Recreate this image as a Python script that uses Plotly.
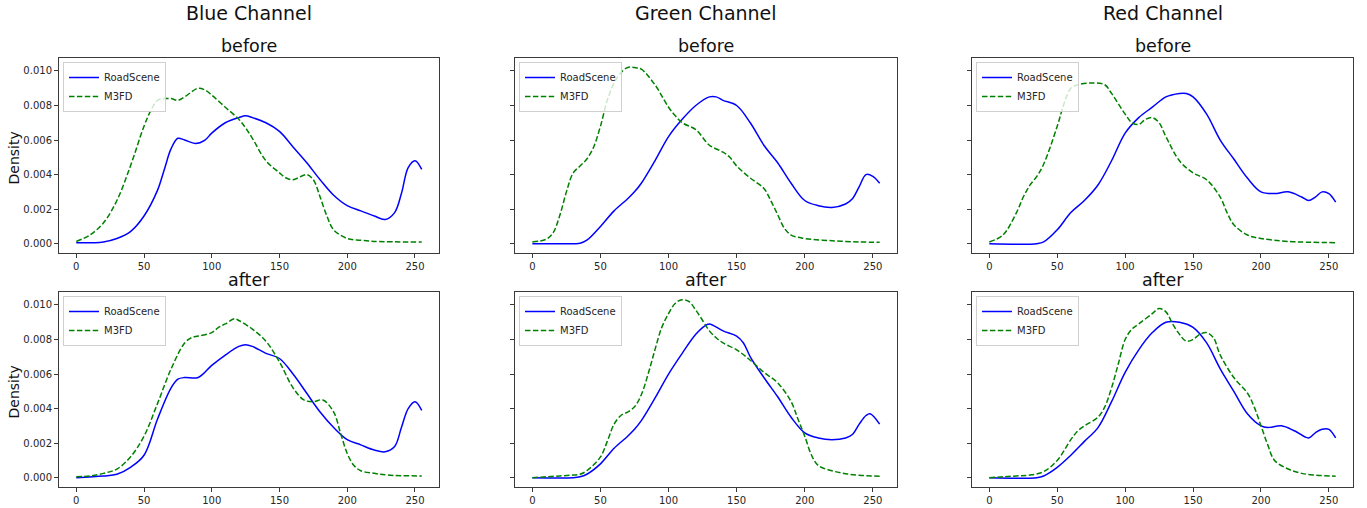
import plotly.graph_objects as go

# ---------------- data ----------------
channels = ["Blue Channel", "Green Channel", "Red Channel"]
rows = ["before", "after"]
series_names = ["RoadScene", "M3FD"]
x_ticks = [0, 50, 100, 150, 200, 250]
y_ticks = [0.0, 0.002, 0.004, 0.006, 0.008, 0.010]
y_tick_labels = ["0.000", "0.002", "0.004", "0.006", "0.008", "0.010"]

# Blue channel, before
blue_before_road_x = [0, 20, 30, 40, 50, 60, 65, 70, 75, 80, 88, 95, 100, 110, 120, 125, 130, 140, 150, 160, 170, 180, 190, 200, 210, 220, 228, 235, 240, 245, 250, 255]
blue_before_road_y = [0.00005, 0.0001, 0.0003, 0.0007, 0.0016, 0.0031, 0.0043, 0.0055, 0.0061, 0.0060, 0.0058, 0.0060, 0.0064, 0.0070, 0.0073, 0.0074, 0.0073, 0.0070, 0.0065, 0.0056, 0.0047, 0.0037, 0.0028, 0.0022, 0.0019, 0.0016, 0.0014, 0.0018, 0.0029, 0.0044, 0.0048, 0.0043]
blue_before_m3fd_x = [0, 10, 20, 30, 40, 50, 55, 60, 65, 70, 75, 80, 90, 95, 100, 110, 120, 125, 130, 140, 150, 155, 160, 170, 175, 180, 185, 190, 200, 210, 220, 255]
blue_before_m3fd_y = [0.00013, 0.0005, 0.0012, 0.0025, 0.0045, 0.0068, 0.0077, 0.0083, 0.0084, 0.0084, 0.0083, 0.0085, 0.0090, 0.0089, 0.0086, 0.0079, 0.0072, 0.0067, 0.0061, 0.0048, 0.0041, 0.0038, 0.0037, 0.0040, 0.0037, 0.0027, 0.0016, 0.0008, 0.0003, 0.0002, 0.00013, 0.0001]

# Blue channel, after
blue_after_road_x = [0, 20, 30, 40, 50, 60, 70, 75, 80, 90, 100, 110, 120, 125, 130, 140, 150, 160, 170, 180, 190, 200, 210, 220, 228, 235, 240, 245, 250, 255]
blue_after_road_y = [0.0, 0.0001, 0.0002, 0.0006, 0.0013, 0.0034, 0.0052, 0.0057, 0.0058, 0.0058, 0.0065, 0.0071, 0.0076, 0.0077, 0.0076, 0.0072, 0.0069, 0.0060, 0.0049, 0.0038, 0.0029, 0.0022, 0.0019, 0.0016, 0.0015, 0.0018, 0.0029, 0.0040, 0.0044, 0.0039]
blue_after_m3fd_x = [0, 10, 20, 30, 40, 50, 60, 70, 80, 85, 90, 100, 105, 110, 117, 120, 130, 140, 150, 160, 168, 175, 182, 190, 195, 200, 205, 210, 220, 230, 255]
blue_after_m3fd_y = [0.00006, 0.0001, 0.00025, 0.0005, 0.0012, 0.0024, 0.0043, 0.0063, 0.0078, 0.0081, 0.0082, 0.0084, 0.0087, 0.0089, 0.0092, 0.0091, 0.0086, 0.0079, 0.0067, 0.0052, 0.0045, 0.0044, 0.0045, 0.0038, 0.0026, 0.0014, 0.0007, 0.0004, 0.00025, 0.00015, 0.0001]

# Green channel, before
green_before_road_x = [0, 30, 35, 40, 50, 60, 70, 75, 80, 90, 100, 110, 120, 130, 135, 140, 150, 160, 170, 180, 190, 200, 210, 220, 230, 235, 240, 245, 250, 255]
green_before_road_y = [0.0, 0.0, 0.00002, 0.0002, 0.0010, 0.0019, 0.0026, 0.0030, 0.0035, 0.0048, 0.0062, 0.0072, 0.0080, 0.0085, 0.0085, 0.0083, 0.0080, 0.0070, 0.0057, 0.0047, 0.0035, 0.0025, 0.0022, 0.0021, 0.0023, 0.0026, 0.0033, 0.0040, 0.0039, 0.0035]
green_before_m3fd_x = [0, 10, 15, 20, 25, 30, 35, 40, 45, 50, 55, 60, 65, 70, 75, 80, 90, 100, 105, 110, 120, 130, 140, 145, 150, 160, 170, 175, 180, 185, 190, 200, 220, 240, 255]
green_before_m3fd_y = [0.0001, 0.00025, 0.0006, 0.0016, 0.0030, 0.0041, 0.0045, 0.0049, 0.0056, 0.0068, 0.0083, 0.0093, 0.0099, 0.0102, 0.0102, 0.0101, 0.0092, 0.0079, 0.0074, 0.0070, 0.0066, 0.0057, 0.0053, 0.0050, 0.0045, 0.0038, 0.0032, 0.0025, 0.0017, 0.0009, 0.0005, 0.0003, 0.00017, 0.0001, 0.00008]

# Green channel, after
green_after_road_x = [0, 30, 35, 40, 50, 60, 70, 75, 80, 90, 100, 110, 120, 127, 130, 140, 150, 155, 160, 170, 180, 190, 200, 210, 220, 230, 235, 240, 245, 248, 255]
green_after_road_y = [0.0, 0.0, 0.00005, 0.0002, 0.0008, 0.0017, 0.0024, 0.0028, 0.0033, 0.0046, 0.0060, 0.0072, 0.0083, 0.0088, 0.0089, 0.0085, 0.0082, 0.0078, 0.0070, 0.0058, 0.0047, 0.0035, 0.0026, 0.0023, 0.0022, 0.0023, 0.0025, 0.0031, 0.0036, 0.0037, 0.0031]
green_after_m3fd_x = [0, 20, 30, 35, 40, 50, 55, 60, 65, 70, 75, 80, 85, 90, 95, 100, 105, 110, 115, 120, 125, 130, 135, 140, 150, 160, 170, 180, 190, 195, 200, 205, 210, 220, 230, 240, 255]
green_after_m3fd_y = [0.0, 0.0001, 0.00015, 0.0002, 0.0004, 0.0012, 0.0021, 0.0031, 0.0036, 0.0038, 0.0041, 0.0048, 0.0060, 0.0074, 0.0087, 0.0095, 0.0101, 0.0103, 0.0102, 0.0097, 0.0091, 0.0085, 0.0081, 0.0078, 0.0074, 0.0068, 0.0061, 0.0055, 0.0044, 0.0034, 0.0024, 0.0013, 0.0007, 0.0004, 0.00023, 0.00014, 0.00008]

# Red channel, before
red_before_road_x = [0, 35, 40, 50, 60, 70, 80, 90, 100, 110, 120, 130, 140, 145, 150, 160, 170, 180, 190, 200, 210, 220, 230, 235, 240, 245, 250, 255]
red_before_road_y = [0.0, 0.0, 0.0001, 0.0008, 0.0018, 0.0025, 0.0034, 0.0048, 0.0064, 0.0073, 0.0079, 0.0085, 0.0087, 0.0087, 0.0085, 0.0075, 0.0060, 0.0049, 0.0038, 0.0030, 0.0029, 0.0030, 0.0027, 0.0025, 0.0027, 0.0030, 0.0029, 0.0024]
red_before_m3fd_x = [0, 10, 20, 25, 30, 35, 40, 50, 55, 60, 65, 75, 85, 90, 100, 105, 110, 115, 120, 125, 130, 140, 150, 160, 170, 175, 180, 190, 200, 220, 255]
red_before_m3fd_y = [0.0001, 0.0005, 0.0018, 0.0027, 0.0034, 0.0039, 0.0046, 0.0068, 0.0081, 0.0090, 0.0092, 0.0093, 0.0092, 0.0087, 0.0075, 0.0070, 0.0069, 0.0072, 0.0073, 0.0070, 0.0062, 0.0048, 0.0041, 0.0037, 0.0027, 0.0018, 0.0011, 0.0005, 0.0003, 0.00013, 0.00006]

# Red channel, after
red_after_road_x = [0, 35, 40, 50, 60, 70, 80, 90, 100, 110, 120, 130, 140, 150, 160, 170, 180, 190, 200, 205, 215, 225, 235, 240, 245, 250, 255]
red_after_road_y = [0.0, 0.0, 0.0001, 0.0006, 0.0013, 0.0021, 0.0029, 0.0044, 0.0061, 0.0074, 0.0084, 0.0090, 0.0090, 0.0087, 0.0078, 0.0063, 0.0050, 0.0037, 0.0030, 0.0029, 0.0030, 0.0027, 0.0023, 0.0026, 0.0028, 0.0028, 0.0023]
red_after_m3fd_x = [0, 20, 30, 40, 50, 60, 65, 70, 80, 85, 90, 95, 100, 105, 110, 120, 125, 130, 135, 140, 145, 150, 155, 160, 165, 170, 180, 190, 195, 200, 205, 210, 220, 230, 240, 255]
red_after_m3fd_y = [0.0, 0.0001, 0.00015, 0.00035, 0.0010, 0.0022, 0.0027, 0.0030, 0.0035, 0.0041, 0.0052, 0.0066, 0.0080, 0.0086, 0.0089, 0.0095, 0.0098, 0.0096, 0.0089, 0.0083, 0.0079, 0.0080, 0.0083, 0.0084, 0.0081, 0.0071, 0.0058, 0.0049, 0.0041, 0.0030, 0.0019, 0.0010, 0.0005, 0.00025, 0.00015, 0.00008]

panels = [
    # (row, col, road_x, road_y, m3fd_x, m3fd_y)
    (0, 0, blue_before_road_x, blue_before_road_y, blue_before_m3fd_x, blue_before_m3fd_y),
    (0, 1, green_before_road_x, green_before_road_y, green_before_m3fd_x, green_before_m3fd_y),
    (0, 2, red_before_road_x, red_before_road_y, red_before_m3fd_x, red_before_m3fd_y),
    (1, 0, blue_after_road_x, blue_after_road_y, blue_after_m3fd_x, blue_after_m3fd_y),
    (1, 1, green_after_road_x, green_after_road_y, green_after_m3fd_x, green_after_m3fd_y),
    (1, 2, red_after_road_x, red_after_road_y, red_after_m3fd_x, red_after_m3fd_y),
]

# ---------------- layout geometry ----------------
W, H = 1367, 508
col_px = [(59, 439), (515, 897), (972, 1353)]
row_px = [(58, 253), (292, 487)]
x_range = [-12.75, 267.75]
y_range = [-0.00054, 0.01075]

FONT = "DejaVu Sans, Liberation Sans, sans-serif"
AXCOL = "#3a3a3a"

fig = go.Figure()
layout = dict(
    width=W, height=H, margin=dict(l=0, r=0, t=0, b=0),
    paper_bgcolor="white", plot_bgcolor="white",
    font=dict(family=FONT, size=10, color="#222"),
    annotations=[],
)

for i, (r, c, rx, ry, mx, my) in enumerate(panels):
    n = i + 1
    xa = "x" if n == 1 else f"x{n}"
    ya = "y" if n == 1 else f"y{n}"
    lg = "legend" if n == 1 else f"legend{n}"
    fig.add_trace(go.Scatter(x=rx, y=ry, mode="lines", name=series_names[0],
                             line=dict(color="#0000ff", width=1.5, shape="spline", smoothing=1.0),
                             xaxis=xa, yaxis=ya, legend=lg, hoverinfo="skip"))
    fig.add_trace(go.Scatter(x=mx, y=my, mode="lines", name=series_names[1],
                             line=dict(color="#008000", width=1.5, dash="5.5px,2.4px", shape="spline", smoothing=1.0),
                             xaxis=xa, yaxis=ya, legend=lg, hoverinfo="skip"))
    x0, x1 = col_px[c]
    y0, y1 = row_px[r]
    common = dict(showline=True, mirror=True, linecolor=AXCOL, linewidth=1,
                  ticks="outside", ticklen=4, tickwidth=1, tickcolor=AXCOL,
                  showgrid=False, zeroline=False,
                  tickfont=dict(family=FONT, size=10, color="#262626"))
    layout["xaxis" if n == 1 else f"xaxis{n}"] = dict(
        domain=[x0 / W, x1 / W], range=x_range, anchor=ya,
        tickvals=x_ticks, ticktext=[str(v) for v in x_ticks], **common)
    layout["yaxis" if n == 1 else f"yaxis{n}"] = dict(
        domain=[1 - y1 / H, 1 - y0 / H], range=y_range, anchor=xa,
        tickvals=y_ticks, ticktext=y_tick_labels if c == 0 else [""] * len(y_ticks),
        **common)
    layout[lg] = dict(
        x=(x0 + 4) / W, y=1 - (y0 + 4) / H, xanchor="left", yanchor="top",
        xref="paper", yref="paper",
        bgcolor="rgba(255,255,255,0.8)", bordercolor="#d0d0d0", borderwidth=1,
        font=dict(family=FONT, size=10, color="#262626"),
        itemwidth=30, tracegroupgap=0,
    )
    # subplot title
    layout["annotations"].append(dict(
        text=rows[r], x=(x0 + x1) / 2 / W, y=1 - (y0 - 12) / H,
        xref="paper", yref="paper", xanchor="center", yanchor="middle",
        showarrow=False, font=dict(family=FONT, size=17.5, color="#111")))

# channel titles
for c, name in enumerate(channels):
    x0, x1 = col_px[c]
    layout["annotations"].append(dict(
        text=name, x=(x0 + x1) / 2 / W, y=1 - 13 / H,
        xref="paper", yref="paper", xanchor="center", yanchor="middle",
        showarrow=False, font=dict(family=FONT, size=19, color="#111")))

# y-axis titles
for r in range(2):
    y0, y1 = row_px[r]
    layout["annotations"].append(dict(
        text="Density", x=13 / W, y=1 - ((y0 + y1) / 2 + 3) / H,
        xref="paper", yref="paper", xanchor="center", yanchor="middle",
        textangle=-90, showarrow=False, font=dict(family=FONT, size=14, color="#111")))

fig.update_layout(**layout)
fig.write_html(
    "out.html",
    config={"displayModeBar": False},
    post_script="document.body.style.margin='0';document.body.style.padding='0';document.body.style.overflow='hidden';",
)
